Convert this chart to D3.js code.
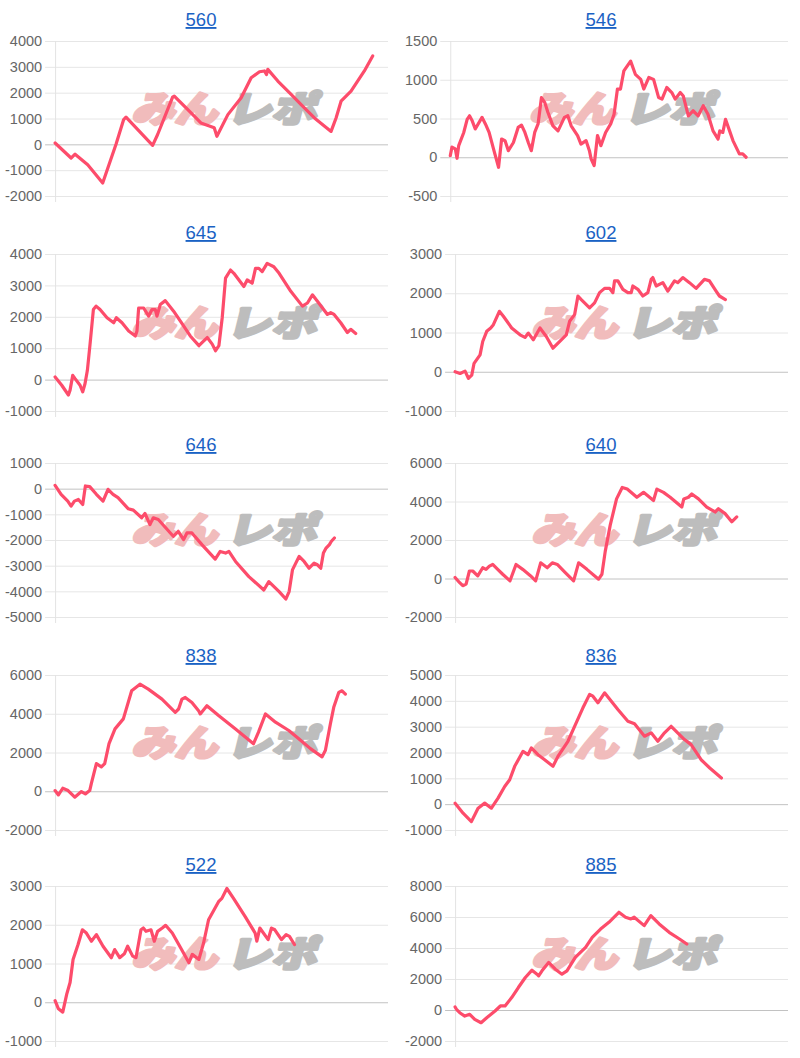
<!DOCTYPE html>
<html><head><meta charset="utf-8">
<script src="https://cdn.jsdelivr.net/npm/d3@7"></script>
<style>body{margin:0;background:#fff}svg{display:block}</style>
</head><body>
<svg id="c" width="800" height="1058"></svg>
<script>
// ---- data (x = progress 0..100, y = value) ----
const titles = ["560","546","645","602","646","640","838","836","522","885"];

const x560 = [0,4.8,6.0,9.8,14.3,18.3,20.6,21.3,29.3,30.8,35.3,35.8,39.8,43.8,47.8,48.6,51.9,55.9,58.9,61.4,62.9,63.5,63.9,66.9,70.9,73.9,77.9,82.9,84.4,85.9,88.9,92.9,95.4];
const y560 = [50,-530,-380,-790,-1500,0,960,1050,-40,380,1830,1870,1350,830,640,310,1150,1800,2580,2810,2840,2700,2900,2450,1930,1540,1020,500,1020,1670,2060,2840,3420];
const t560 = [-2000,-1000,0,1000,2000,3000,4000];

const x546 = [0,0.5,1.5,2.0,2.5,4.0,5.0,5.7,6.5,7.4,9.4,10.4,11.5,12.8,14.3,15.2,16.2,17.2,18.7,20.1,21.1,22.1,23.1,24.0,25.0,26.0,27.0,28.0,28.9,30.4,31.9,33.8,34.8,35.8,37.7,38.7,40.2,41.2,41.7,42.6,43.6,44.6,46.0,47.5,48.5,49.5,50.4,51.4,53.4,54.8,56.4,57.3,58.8,60.2,61.7,62.7,64.1,65.6,66.6,68.1,69.0,70.5,71.9,73.4,74.9,76.3,77.8,79.3,79.8,80.7,81.5,82.7,83.7,85.6,86.6,87.6];
const y546 = [20,130,107,-13,150,320,490,535,470,365,515,430,320,107,-130,235,215,85,190,385,415,320,190,85,320,430,770,705,580,405,340,515,535,405,280,170,215,85,-20,-107,280,150,320,430,555,880,880,1115,1240,1070,1005,880,1030,1005,770,750,900,835,750,835,790,535,600,535,665,555,340,235,340,320,490,340,215,43,43,0];
const t546 = [-500,0,500,1000,1500];

const x645 = [0,2.0,4.0,4.5,5.3,6.0,7.5,8.3,9.0,9.7,10.5,11.5,12.3,13.5,15.6,17.6,18.4,20.1,22.1,24.1,24.6,25.1,26.6,28.1,29.1,30.1,30.6,31.6,33.1,35.6,38.6,40.6,43.2,44.2,45.7,47.2,48.2,49.2,50.2,51.2,52.7,53.7,56.7,57.7,59.2,60.2,61.2,62.2,63.7,65.7,67.3,70.8,74.3,75.8,77.3,78.8,81.8,82.8,83.8,85.8,87.8,88.8,90.3];
const y645 = [85,-180,-490,-335,135,30,-180,-390,-125,295,1130,2230,2340,2230,1970,1810,1970,1810,1550,1390,1550,2280,2280,2020,2230,2230,2020,2390,2515,2180,1710,1390,1080,1185,1340,1130,920,1080,1970,3230,3490,3385,2965,3175,3070,3540,3540,3440,3700,3595,3385,2810,2340,2440,2700,2495,2075,2130,2075,1810,1500,1600,1470];
const t645 = [-1000,0,1000,2000,3000,4000];

const x602 = [0,1.5,3.0,4.0,5.0,5.7,7.5,8.3,9.5,10.7,11.5,13.3,14.5,17.0,19.5,21.0,22.0,23.5,25.5,27.4,29.4,31.9,33.4,34.4,35.9,36.9,37.9,40.4,41.9,43.4,44.9,46.4,47.4,47.9,48.9,50.4,51.9,52.9,53.4,54.9,56.4,57.9,58.9,59.4,60.4,62.4,63.9,65.9,66.9,68.4,70.4,72.4,74.9,76.4,78.4,79.4,81.2];
const y602 = [0,-45,17,-170,-85,215,430,770,1030,1115,1200,1540,1415,1115,940,875,985,815,1115,900,600,815,940,1285,1455,1930,1840,1630,1755,2015,2125,2125,2015,2315,2315,2100,2015,2015,2185,2100,1930,2015,2355,2400,2185,2270,2055,2315,2270,2400,2270,2125,2355,2315,2055,1930,1840];
const t602 = [-1000,0,1000,2000,3000];

const x646 = [0,1.8,3.8,4.8,5.8,7.0,8.3,9.1,10.4,12.4,14.4,15.9,17.4,18.9,22.0,23.5,26.0,27.0,28.5,29.5,31.0,35.5,37.0,38.6,39.6,41.1,44.1,48.1,49.6,51.2,52.2,54.2,58.2,62.7,64.2,67.3,69.3,70.3,71.3,72.3,73.3,74.8,76.3,77.8,78.8,79.8,80.6,81.4,82.4,83.0,83.9];
const y646 = [130,-220,-485,-680,-485,-420,-615,105,80,-220,-485,-25,-220,-350,-785,-835,-1135,-965,-1400,-1135,-1200,-1855,-1660,-1985,-1725,-1725,-2180,-2745,-2445,-2510,-2445,-2835,-3425,-3950,-3620,-4010,-4300,-4010,-3165,-2900,-2640,-2835,-3100,-2900,-2965,-3100,-2510,-2315,-2180,-2050,-1920];
const t646 = [-5000,-4000,-3000,-2000,-1000,0,1000];

const x640 = [0,1.3,2.3,3.3,4.3,5.3,6.8,8.3,9.3,10.3,11.3,12.8,14.3,16.5,18.3,20.3,22.7,24.2,25.7,27.7,29.2,30.7,33.1,35.6,37.1,39.6,43.1,44.1,45.1,46.6,48.5,50.2,51.7,54.6,56.6,59.6,60.6,62.6,64.6,68.1,68.7,70.1,71.1,73.1,75.6,78.1,79.1,81.1,83.1,84.6];
const y640 = [50,-205,-375,-290,390,390,135,560,475,645,730,475,220,-120,730,475,135,-120,815,560,815,730,305,-120,815,475,-35,220,1410,2775,4135,4730,4645,4220,4475,4050,4645,4475,4220,3710,4135,4220,4390,4135,3710,3455,3625,3370,2945,3200];
const t640 = [-2000,0,2000,4000,6000];

const x838 = [0,1.0,2.3,3.9,5.9,7.9,9.1,10.4,10.9,12.4,13.9,14.9,16.2,18.0,20.5,23.0,25.5,28.0,32.1,36.1,37.1,38.1,39.1,41.1,43.1,43.6,45.6,49.1,54.1,59.6,61.1,63.2,66.2,70.2,73.2,76.7,80.2,81.2,82.7,83.7,85.2,86.2,87.2];
const y838 = [35,-190,155,35,-305,-15,-135,35,410,1430,1260,1430,2455,3220,3735,5185,5525,5270,4755,4075,4245,4755,4840,4585,4160,3990,4415,3905,3220,2455,3050,3990,3565,3135,2710,2200,1775,2115,3480,4330,5100,5185,5015];
const t838 = [-2000,0,2000,4000,6000];

const x836 = [0,2.4,4.9,6.9,8.9,10.9,12.9,14.9,16.4,17.9,20.4,21.9,22.9,24.9,26.9,29.4,30.9,33.9,35.9,38.4,40.4,41.4,42.9,44.9,48.9,51.9,53.9,56.9,58.9,60.9,62.9,64.9,68.9,70.9,73.9,76.5,80.0];
const y836 = [40,-350,-675,-155,40,-155,235,685,945,1465,2045,1915,2175,1915,1720,1465,1850,2435,3015,3730,4250,4180,3925,4310,3665,3210,3110,2630,2760,2435,2760,3015,2500,2305,1720,1400,1010];
const t836 = [-1000,0,1000,2000,3000,4000,5000];

const x522 = [0,1.0,2.3,3.5,4.5,5.4,6.9,8.2,9.4,10.9,12.4,14.4,16.9,17.9,19.4,20.8,21.8,23.3,24.3,25.8,26.5,27.3,28.8,29.8,30.8,32.2,33.2,35.2,37.7,40.2,41.2,43.2,44.6,46.1,49.1,50.1,51.6,53.6,57.1,60.1,60.6,61.5,64.0,65.0,66.0,68.0,69.4,70.4,71.9];
const y522 = [40,-170,-255,210,510,1105,1490,1870,1785,1575,1745,1445,1150,1360,1150,1250,1445,1190,1150,1870,1915,1830,1870,1575,1830,1915,1985,1785,1405,1020,1235,1105,1530,2130,2595,2680,2935,2680,2210,1785,1575,1915,1615,1915,1870,1615,1745,1700,1490];
const t522 = [-1000,0,1000,2000,3000];

const x885 = [0,0.4,1.4,2.9,4.4,5.9,7.8,9.5,12.0,13.6,15.0,17.0,19.0,21.1,23.1,24.6,25.1,26.1,28.1,30.1,32.1,33.6,36.1,39.2,41.2,43.7,46.2,49.2,51.2,52.8,53.8,56.8,58.8,61.3,64.3,67.4,69.6];
const y885 = [195,45,-175,-390,-280,-605,-820,-500,-65,260,260,800,1450,2095,2570,2310,2200,2525,3065,2635,2310,2525,3390,4040,4685,5225,5660,6305,5985,5875,5985,5445,6090,5550,5010,4580,4255];
const t885 = [-2000,0,2000,4000,6000,8000];

const seriesX = [x560,x546,x645,x602,x646,x640,x838,x836,x522,x885];
const seriesY = [y560,y546,y645,y602,y646,y640,y838,y836,y522,y885];
const seriesTicks = [t560,t546,t645,t602,t646,t640,t838,t836,t522,t885];

// ---- layout ----
const rowPlotTop = [41,254,463,675,886];
const rowPlotBottom = [196,411,617,830,1041];
const rowTitleY = [26,239,451,662,871];
const LINE = "#fd4c6b";
const TICKFONT = "'Liberation Sans', Arial, Helvetica, sans-serif";
const TICKSIZE = 14.5;

const svg = d3.select("#c");

const meas = svg.append("text").attr("font-family", TICKFONT).attr("font-size", TICKSIZE).attr("visibility","hidden");
function tw(s){ meas.text(s); return meas.node().getComputedTextLength(); }

titles.forEach((title, i) => {
  const col = i % 2, row = Math.floor(i / 2);
  const colX = col * 400;
  const ticks = seriesTicks[i];
  const maxW = d3.max(ticks, t => tw(String(t)));
  const left = colX + 5 + maxW + 13;
  const right = colX + 388;
  const top = rowPlotTop[row], bottom = rowPlotBottom[row];

  const x = d3.scaleLinear().domain([0, 100]).range([left, right]);
  const y = d3.scaleLinear().domain(d3.extent(ticks)).range([bottom, top]);

  const g = svg.append("g");

  g.append("text")
    .attr("x", colX + 201).attr("y", rowTitleY[row])
    .attr("text-anchor", "middle")
    .attr("font-family", TICKFONT).attr("font-size", 18.5)
    .attr("fill", "#1a62c4")
    .style("text-decoration", "underline")
    .text(title);

  g.append("g").selectAll("line").data(ticks).join("line")
    .attr("x1", left - 10).attr("x2", right)
    .attr("y1", d => y(d) + 0.5).attr("y2", d => y(d) + 0.5)
    .attr("stroke", d => d === 0 ? "#c2c2c2" : "#e6e6e6")
    .attr("stroke-width", 1);

  g.append("line")
    .attr("x1", left + 0.5).attr("x2", left + 0.5)
    .attr("y1", top).attr("y2", bottom + 6)
    .attr("stroke", "#e3e3e3");

  g.append("g").selectAll("text").data(ticks).join("text")
    .attr("x", left - 13).attr("y", d => y(d))
    .attr("dy", "0.36em")
    .attr("text-anchor", "end")
    .attr("font-family", TICKFONT).attr("font-size", TICKSIZE)
    .attr("fill", "#666")
    .text(d => String(d));

  // watermark
  const cx = (left + right) / 2, cy = (top + bottom) / 2 - 10;
  const wm = g.append("g").attr("transform", `translate(${cx},${cy + 13}) skewX(-14)`);
  wm.append("text")
    .attr("x", -90).attr("y", 0)
    .attr("font-family", "'Noto Sans CJK JP', sans-serif")
    .attr("font-weight", 900).attr("font-size", 36)
    .attr("textLength", 86).attr("lengthAdjust", "spacingAndGlyphs")
    .attr("fill", "#f1bcbc").attr("stroke", "#f1bcbc").attr("stroke-width", 3).attr("stroke-linejoin", "round")
    .text("みん");
  wm.append("text")
    .attr("x", 5).attr("y", 0)
    .attr("font-family", "'Noto Sans CJK JP', sans-serif")
    .attr("font-weight", 900).attr("font-size", 36)
    .attr("textLength", 90).attr("lengthAdjust", "spacingAndGlyphs")
    .attr("fill", "#bdbdbd").attr("stroke", "#bdbdbd").attr("stroke-width", 3).attr("stroke-linejoin", "round")
    .text("レポ");

  const xs = seriesX[i], ys = seriesY[i];
  const n = Math.min(xs.length, ys.length);
  const pts = d3.range(n).map(k => [xs[k], ys[k]]);
  g.append("path")
    .datum(pts)
    .attr("fill", "none")
    .attr("stroke", LINE)
    .attr("stroke-width", 3.2)
    .attr("stroke-linejoin", "round")
    .attr("stroke-linecap", "round")
    .attr("d", d3.line().x(d => x(d[0])).y(d => y(d[1])));
});
meas.remove();
</script>
</body></html>
